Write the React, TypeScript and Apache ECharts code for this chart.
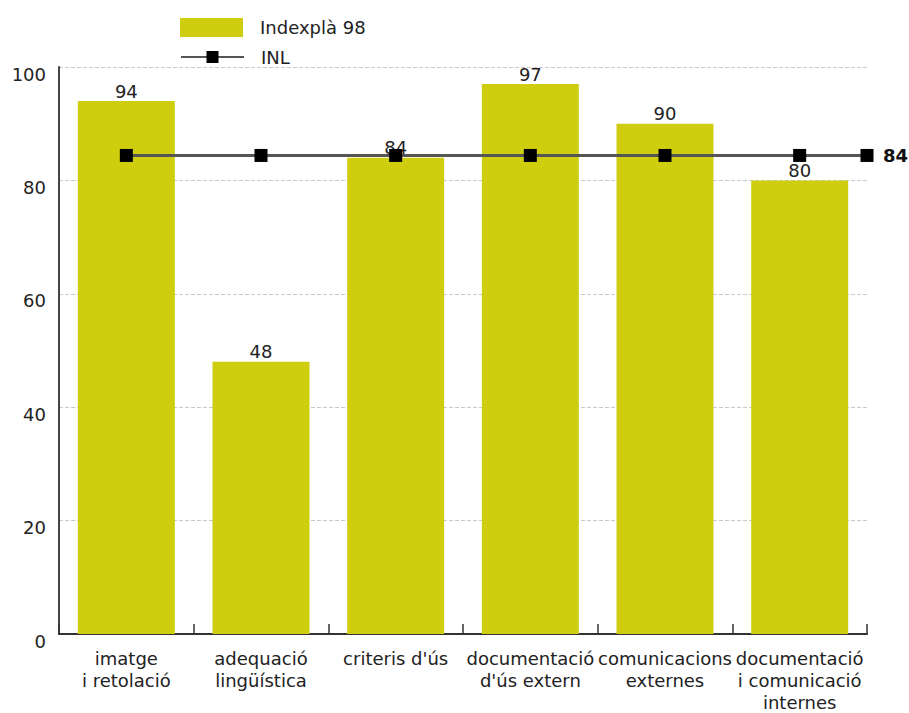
import React, { useEffect, useRef } from "react";
import * as echarts from "echarts";

const categories = [
  "imatge\ni retolació",
  "adequació\nlingüística",
  "criteris d'ús",
  "documentació\nd'ús extern",
  "comunicacions\nexternes",
  "documentació\ni comunicació\ninternes",
];
const indexplaValues = [94, 48, 84, 97, 90, 80];
const inlValue = 84.4;
const inlPositions = [0.5, 1.5, 2.5, 3.5, 4.5, 5.5, 6];
const yTicks = [0, 20, 40, 60, 80, 100];

const FONT = "DejaVu Sans";
const TXT = "#222";
const FS = 18;

export default function App() {
  const ref = useRef<HTMLDivElement>(null);
  useEffect(() => {
    document.body.style.margin = "0";
    if (!ref.current) return;
    const chart = echarts.init(ref.current, null, { renderer: "svg" });
    chart.setOption({
      animation: false,
      textStyle: { fontFamily: FONT, color: TXT, fontSize: FS },
      legend: [
        {
          orient: "vertical",
          left: 175,
          top: 13,
          itemWidth: 63,
          itemHeight: 19,
          textStyle: { fontFamily: FONT, fontSize: FS, color: TXT, padding: [0, 0, 0, 12] },
          data: [{ name: "Indexplà 98", icon: "rect" }],
        },
        {
          orient: "vertical",
          left: 175,
          top: 43,
          itemWidth: 63,
          itemHeight: 15,
          textStyle: { fontFamily: FONT, fontSize: FS, color: TXT, padding: [0, 0, 0, 12] },
          data: [{ name: "INL" }],
        },
      ],
      grid: { left: 59, right: 42, top: 67, bottom: 75, containLabel: false },
      xAxis: [
        {
          type: "category",
          data: categories,
          axisLine: { show: true, lineStyle: { color: "#333", width: 2 } },
          axisTick: { show: true, inside: true, length: 10, lineStyle: { color: "#333", width: 1.5 } },
          axisLabel: {
            interval: 0,
            fontFamily: FONT,
            fontSize: FS,
            color: TXT,
            lineHeight: 22,
            margin: 13,
          },
        },
        {
          type: "value",
          min: 0,
          max: 6,
          show: false,
        },
      ],
      yAxis: {
        type: "value",
        min: yTicks[0],
        max: yTicks[yTicks.length - 1],
        interval: 20,
        axisLine: { show: true, lineStyle: { color: "#444", width: 2 } },
        axisTick: { show: false },
        axisLabel: {
          fontFamily: FONT,
          fontSize: FS,
          color: TXT,
          margin: 13,
          verticalAlign: "top",
          lineHeight: 14,
        },
        splitLine: { show: true, lineStyle: { color: "#c8c8c8", type: [4, 2], width: 1 } },
      },
      series: [
        {
          name: "Indexplà 98",
          type: "bar",
          data: indexplaValues,
          barCategoryGap: "28%",
          itemStyle: { color: "#cecd0e" },
          label: {
            show: true,
            position: "top",
            distance: 1,
            fontFamily: FONT,
            fontSize: FS,
            color: TXT,
          },
        },
        {
          name: "INL",
          type: "line",
          xAxisIndex: 1,
          data: inlPositions.map((x) => [x, inlValue]),
          symbol: "rect",
          symbolSize: 13,
          lineStyle: { color: "#555", width: 3 },
          itemStyle: { color: "#000" },
          z: 5,
          endLabel: {
            show: true,
            formatter: () => String(Math.round(inlValue)),
            fontFamily: FONT,
            fontSize: FS,
            fontWeight: "bold",
            color: "#111",
            distance: 16,
          },
        },
      ],
    });
    return () => chart.dispose();
  }, []);
  return <div ref={ref} style={{ width: 909, height: 713 }} />;
}
